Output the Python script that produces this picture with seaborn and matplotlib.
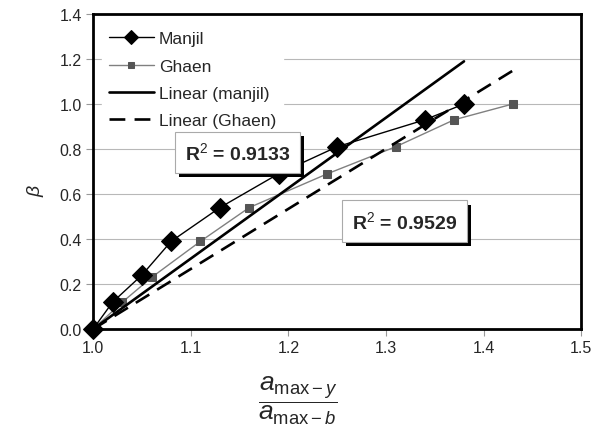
import numpy as np
import matplotlib
matplotlib.use("Agg")
import matplotlib.pyplot as plt
import matplotlib.patheffects as pe
import seaborn as sns

# data
manjil_x = [1.00, 1.02, 1.05, 1.08, 1.13, 1.19, 1.25, 1.34, 1.38]
manjil_y = [0.00, 0.12, 0.24, 0.39, 0.54, 0.69, 0.81, 0.93, 1.00]
ghaen_x = [1.00, 1.03, 1.06, 1.11, 1.16, 1.24, 1.31, 1.37, 1.43]
ghaen_y = [0.00, 0.12, 0.23, 0.39, 0.54, 0.69, 0.81, 0.93, 1.00]
# linear trendlines (through x=1, y=0), slopes
manjil_slope = 3.13
ghaen_slope = 2.67
r2_labels = ["R$^2$ = 0.9133", "R$^2$ = 0.9529"]
r2_pos = [(1.148, 0.785), (1.319, 0.48)]

sns.set_style("white")
plt.rcParams["font.family"] = ["Liberation Sans", "DejaVu Sans"]
plt.rcParams["mathtext.fontset"] = "custom"
plt.rcParams["mathtext.rm"] = "Liberation Sans"
plt.rcParams["mathtext.it"] = "Liberation Sans:italic"
plt.rcParams["mathtext.bf"] = "Liberation Sans:bold"

fig = plt.figure(figsize=(5.93, 4.39), dpi=100)
ax = fig.add_axes([0.157, 0.248, 0.823, 0.718])

sns.lineplot(x=manjil_x, y=manjil_y, ax=ax, color="black", lw=1.0,
             marker="D", markersize=10, markeredgecolor="black",
             label="Manjil", clip_on=False, zorder=4)
sns.lineplot(x=ghaen_x, y=ghaen_y, ax=ax, color="#808080", lw=1.0,
             marker="s", markersize=6, markerfacecolor="#555555",
             markeredgecolor="#555555", label="Ghaen", zorder=3)

mx = np.array([manjil_x[0], manjil_x[-1]])
gx = np.array([ghaen_x[0], ghaen_x[-1]])
sns.lineplot(x=mx, y=manjil_slope * (mx - 1), ax=ax, color="black", lw=1.9,
             label="Linear (manjil)", zorder=5)
ax.plot(gx, ghaen_slope * (gx - 1), color="black", lw=1.9,
        dashes=(6, 3.5), label="Linear (Ghaen)", zorder=5)

ax.set_xlim(1.0, 1.5)
ax.set_ylim(0.0, 1.4)
ax.set_xticks(np.arange(1.0, 1.51, 0.1))
ax.set_yticks(np.arange(0.0, 1.41, 0.2))
ax.set_xticklabels([f"{v:.1f}" for v in np.arange(1.0, 1.51, 0.1)])
ax.set_yticklabels([f"{v:.1f}" for v in np.arange(0.0, 1.41, 0.2)])
ax.tick_params(axis="both", labelsize=11.5, direction="out", length=5,
               width=0.8, color="#999999", pad=3, bottom=True, left=True)
ax.yaxis.grid(True, color="#b8b8b8", lw=0.8)
ax.set_axisbelow(True)
for s in ax.spines.values():
    s.set_color("black")
    s.set_linewidth(2.0)

leg = ax.legend(loc="upper left", bbox_to_anchor=(0.0, 0.995), frameon=True,
                fontsize=12.5, handlelength=2.6, labelspacing=0.7,
                handletextpad=0.3, borderpad=0.4, fancybox=False,
                framealpha=1)
leg.get_frame().set_edgecolor("white")
leg.set_zorder(6)
hs = leg.legend_handles
hs[0].set_markersize(7)
hs[1].set_markersize(5)

for txt, (px, py) in zip(r2_labels, r2_pos):
    t = ax.text(px, py, txt, fontsize=14, fontweight="bold", ha="center",
                va="center", zorder=7,
                bbox=dict(boxstyle="square,pad=0.5", fc="white",
                          ec="#aaaaaa", lw=0.8))
    t.get_bbox_patch().set_path_effects(
        [pe.SimplePatchShadow(offset=(3, -3), shadow_rgbFace="black", alpha=1),
         pe.Normal()])

ax.set_ylabel("")
ax.set_xlabel("")
fig.text(0.06, 0.567, r"$\beta$", fontsize=14, rotation=90,
         ha="center", va="center")
fig.text(0.503, 0.086, r"$\dfrac{a_{\mathrm{max}-y}}{a_{\mathrm{max}-b}}$",
         fontsize=19, ha="center", va="center")

fig.savefig("out.png", dpi=100)
